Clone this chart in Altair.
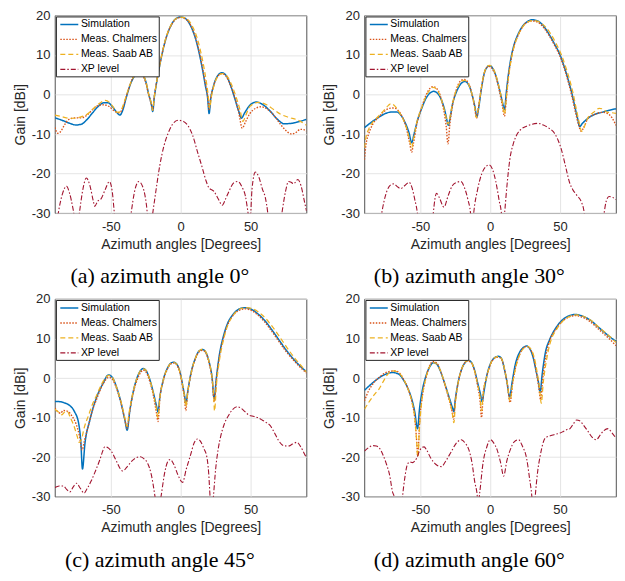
import altair as alt
import pandas as pd

SERIES = ["Simulation", "Meas. Chalmers", "Meas. Saab AB", "XP level"]
COLORS = ["#0072BD", "#D95319", "#EDB120", "#A2142F"]
DASHES = [[1, 0], [1.5, 1.5], [5, 3], [5, 2, 1.5, 2]]
WIDTHS = [1.5, 1.1, 1.3, 1.2]
X_TICKS = [-50, 0, 50]
Y_TICKS = [-30, -20, -10, 0, 10, 20]
CAPTIONS = ["(a) azimuth angle 0°", "(b) azimuth angle 30°",
            "(c) azimuth angle 45°", "(d) azimuth angle 60°"]

# ---------------- (a) azimuth angle 0 deg ----------------
A_SIM = [(-90,-5.9),(-85,-6.5),(-80,-7.2),(-75,-7.7),(-71,-7.5),(-67,-6.3),(-63,-4.6),(-59,-3.0),(-55,-2.1),(-52,-2.1),(-49,-3.0),(-46,-4.4),(-43.5,-5.2),(-41.5,-4.0),(-39,-0.8),(-36,2.6),(-33,4.7),(-30,5.5),(-27,4.9),(-25,3.3),(-23,0.2),(-21,-2.5),(-20,-4.3),(-19,-1.0),(-17.5,2.5),(-15.5,6.5),(-13.5,10.0),(-11.5,13.0),(-9,15.8),(-6,18.1),(-3,19.3),(0,19.6),(3,19.3),(6,18.1),(9,15.8),(11.5,13.0),(13.5,10.0),(15.5,6.5),(17.5,2.5),(19.3,-1.0),(20.3,-4.8),(21.5,-1.0),(23.5,2.2),(26.5,4.8),(29.5,5.5),(32.5,4.8),(35.5,2.5),(38.5,-0.8),(41.5,-4.2),(43.5,-6.0),(45.5,-4.8),(49.5,-2.7),(54,-1.9),(59,-2.6),(64,-4.2),(69,-6.2),(74,-7.4),(79,-7.3),(85,-6.8),(90,-6.3)]
A_CHA = [(-90,-8.3),(-88,-9.8),(-86,-9.4),(-83,-7.6),(-80,-6.3),(-76,-5.9),(-71,-5.9),(-67,-5.2),(-63,-3.8),(-59,-2.8),(-55,-2.6),(-51,-3.1),(-47,-4.3),(-44,-4.6),(-41.5,-3.5),(-39,-0.6),(-36,2.8),(-33,4.9),(-30,5.4),(-27,4.7),(-25,3.0),(-23,0.0),(-21,-2.5),(-20,-4.0),(-19,-0.8),(-17.5,2.7),(-15.5,6.6),(-13.5,10.0),(-11.5,13.0),(-9,15.8),(-6,18.0),(-3,19.2),(0,19.5),(3,19.2),(6,18.2),(9,16.0),(11.5,13.3),(13.5,10.4),(15.5,7.0),(17.5,3.0),(19.3,-0.5),(20.3,-3.8),(21.5,-0.8),(23.5,2.2),(26.5,4.6),(29.5,5.3),(32.5,4.6),(35.5,2.4),(38.5,-0.5),(41.5,-4.5),(44,-8.5),(46.5,-6.8),(49.5,-4.8),(53.5,-3.5),(57.5,-3.1),(61.5,-3.6),(66.5,-5.2),(71.5,-7.6),(76.5,-9.5),(79.5,-10.0),(82.5,-9.6),(85.5,-8.8),(88,-8.9),(90,-9.3)]
A_SAAB = [(-90,-5.2),(-85,-5.6),(-80,-6.0),(-76,-6.0),(-72,-5.7),(-67,-5.0),(-62,-3.4),(-58,-2.2),(-54,-1.5),(-51,-2.0),(-48,-3.3),(-45.5,-4.5),(-43.5,-4.4),(-41,-2.5),(-38,0.8),(-35,3.6),(-32,5.2),(-30,5.6),(-27,5.0),(-25,3.4),(-23,0.3),(-21,-2.3),(-20,-4.0),(-19,-0.9),(-17.5,2.6),(-15.5,6.6),(-13.5,10.1),(-11.5,13.2),(-9,16.0),(-6,18.2),(-3,19.3),(0,19.6),(3,19.4),(6,18.6),(9,16.8),(12,14.0),(14,11.3),(16,8.0),(18,4.0),(19.6,0.0),(20.7,-3.5),(22,-0.5),(24,2.5),(27,4.8),(30,5.3),(33,4.7),(36.5,2.4),(39.5,-0.5),(42.5,-4.0),(44.5,-6.8),(46.5,-5.3),(49.5,-3.0),(55.5,-2.0),(61.5,-2.6),(66.5,-3.8),(71.5,-5.0),(77.5,-5.8),(84,-6.5),(90,-7.8)]
A_XP = [(-90,-36),(-87.6,-30),(-84.5,-25),(-81.7,-23.2),(-79.5,-25),(-77,-29),(-75.5,-32),(-74,-34),(-72.5,-30),(-70,-24),(-67.5,-21.1),(-65,-23),(-62.5,-27),(-61.5,-28.3),(-59.5,-27),(-57,-26.4),(-54,-24),(-51,-22),(-49,-24.5),(-47.5,-30),(-46,-36),(-38,-36),(-35.5,-30),(-33,-24.5),(-30,-22),(-27,-23.5),(-24.5,-28),(-23,-33),(-21.5,-34),(-20,-30),(-18,-25),(-15,-18),(-12,-13),(-9,-9.8),(-6,-7.6),(-2,-6.5),(2,-6.8),(5,-7.8),(8.4,-10.2),(12,-14.5),(15.5,-18.6),(18,-21.7),(20.2,-23.6),(23.8,-24.5),(27,-26.5),(29.7,-28),(32,-26.5),(34.5,-24.5),(38,-22.3),(41,-22),(44,-23.5),(46.3,-25.7),(48,-29.5),(49.5,-33),(51,-24),(53.4,-19.6),(56,-21),(58.5,-24),(60.5,-26),(62.3,-30),(64,-36),(70,-36),(72.4,-30),(75,-24.5),(77.1,-22),(79,-22.2),(80.7,-22.6),(83.8,-21.5),(86,-23),(88.5,-27),(90,-29.5)]

# ---------------- (b) azimuth angle 30 deg ----------------
B_SIM = [(-90,-8.4),(-85,-7.0),(-80,-5.8),(-75,-4.8),(-70,-4.4),(-67,-4.4),(-64,-5.2),(-61,-7.0),(-58,-9.8),(-56.2,-12.2),(-54.5,-10.0),(-52,-6.5),(-49,-3.5),(-46,-1.0),(-43,0.4),(-40.5,0.8),(-38,0.4),(-35,-1.3),(-32.5,-4.0),(-30.5,-7.2),(-30,-7.8),(-29,-6.5),(-27,-2.5),(-24,0.8),(-21,2.7),(-18.2,3.3),(-15.5,2.5),(-13,0.0),(-11,-3.0),(-9.5,-5.6),(-8.3,-3.5),(-6.5,1.0),(-4.5,5.0),(-2.5,6.8),(-0.5,7.3),(1.5,6.8),(4,4.8),(6.5,1.5),(8.5,-1.5),(10.2,-3.8),(11.5,0.5),(13,5.0),(15,9.5),(17,12.5),(20,15.3),(23,17.2),(26,18.3),(30,18.9),(34,18.6),(38,17.4),(42,15.3),(46,12.8),(50,10.0),(53,7.0),(56,3.5),(58.5,0.2),(60.5,-3.0),(62.5,-6.0),(64,-8.1),(66,-7.3),(70,-6.0),(75,-5.0),(80,-4.5),(85,-4.0),(90,-3.6)]
B_CHA = [(-90,-16.5),(-89,-13),(-87,-10),(-84,-7.5),(-80,-5.8),(-76,-4.3),(-72,-3.5),(-69,-3.4),(-66,-4.0),(-63,-5.6),(-60,-8.5),(-57.5,-12.5),(-56.2,-14.6),(-55,-12.5),(-52.5,-7.5),(-49,-3.2),(-46,-0.2),(-43,1.6),(-41,2.0),(-38.5,1.6),(-36,0.0),(-33.5,-3.5),(-31.5,-8),(-30.2,-12.5),(-29,-8.0),(-27,-2.8),(-24,1.5),(-21,3.5),(-18.5,3.8),(-15.5,2.8),(-13,0.0),(-11,-3.5),(-9.8,-6.0),(-8.5,-3.5),(-6.5,1.2),(-4.5,5.0),(-2.5,6.8),(-0.5,7.1),(1.5,6.5),(4,4.5),(6.5,1.0),(8.5,-2.5),(10.2,-5.5),(11.5,-1.0),(13,4.5),(15,9.0),(17,12.2),(20,15.0),(23,17.0),(26,18.2),(30,18.6),(34,18.3),(38,17.0),(42,15.0),(46,12.5),(50,9.6),(53,6.6),(56,3.0),(58.5,-0.5),(61,-4.5),(63.5,-8.0),(65,-9.3),(67,-8.3),(70,-6.0),(75,-5.0),(80,-4.5),(84,-4.8),(87,-5.8),(90,-7.8)]
B_SAAB = [(-90,-13.5),(-89,-11),(-87,-8.8),(-84,-7.0),(-80,-5.5),(-76,-4.0),(-73,-2.8),(-71,-2.3),(-68,-3.0),(-65,-4.5),(-62,-6.5),(-59,-9.5),(-57,-12.5),(-56.2,-13.5),(-55,-11.5),(-52.5,-7),(-49,-3.3),(-46,-0.5),(-43,1.2),(-41,1.8),(-38.5,1.4),(-36,-0.2),(-33.5,-3.0),(-31,-6.5),(-30,-7.5),(-29,-6.0),(-27,-2.3),(-24,1.3),(-21,3.2),(-18.5,3.6),(-15.5,2.6),(-13,0.0),(-11,-3.3),(-10,-5.8),(-8.5,-3.5),(-6.5,1.3),(-4.5,5.2),(-2.5,7.0),(-0.5,7.4),(1.5,6.9),(4,5.0),(6.5,1.6),(8.5,-1.5),(10.2,-5.0),(11.5,-1.0),(13,4.0),(15,8.8),(17,12.0),(20,15.0),(23,17.0),(26,18.2),(31,18.7),(35,18.4),(39,17.3),(43,15.5),(47,13.0),(51,10.0),(54,7.0),(57,3.5),(59.5,0.0),(61.5,-3.5),(63.5,-6.8),(65.5,-9.3),(67.5,-8.0),(70,-5.8),(74,-4.5),(78,-3.5),(80,-3.6),(84,-4.5),(87,-4.6),(90,-4.8)]
B_XP = [(-90,-36),(-80,-36),(-77.6,-30),(-74,-24.5),(-71,-22.8),(-69,-22.6),(-66.5,-23.3),(-64,-23.8),(-61,-23),(-58,-22.2),(-56,-23.5),(-54,-26.5),(-52.1,-30),(-50.5,-36),(-42,-36),(-40.7,-30),(-38.4,-25),(-36.5,-26),(-33.1,-28.5),(-30,-25.5),(-27,-23),(-24,-22.2),(-21,-22),(-18.5,-23.5),(-16,-26.5),(-14.1,-30),(-13,-35),(-11.8,-30),(-9,-24),(-6,-20),(-3,-18.2),(-0.8,-17.8),(1.5,-18.8),(4,-22),(6.5,-27),(8,-30),(9,-35),(10.3,-30),(12,-23),(14,-16.5),(16.5,-12.5),(19,-10.2),(22,-8.8),(26,-8),(30,-7.5),(34.5,-7.3),(38,-7.7),(42,-8.5),(46,-9.8),(48.5,-11.5),(51,-14),(54,-18.3),(57,-22.5),(59,-24),(62,-25.5),(65,-27),(67.3,-30),(69,-36),(79.5,-36),(81.5,-30),(83,-27),(85,-25.8),(87.5,-26),(90,-26.6)]

# ---------------- (c) azimuth angle 45 deg ----------------
C_SIM = [(-90,-5.9),(-86,-6.0),(-83,-6.3),(-80,-6.8),(-76,-8.5),(-73,-11.5),(-71.5,-16),(-70.3,-23),(-68.5,-16.5),(-65,-10.6),(-60,-4.7),(-55.5,-1.3),(-51.8,0.8),(-49,0.2),(-46,-2.2),(-43,-5.8),(-40,-10.5),(-38.3,-13.2),(-36.5,-8.5),(-34,-3.5),(-31,0.3),(-28.5,2.0),(-27,2.4),(-25,2.0),(-22,-0.5),(-19.5,-3.8),(-17.5,-6.8),(-16.2,-8.6),(-15,-5),(-12.5,-0.5),(-9.5,2.5),(-7,3.8),(-5.2,4.0),(-3,3.6),(-0.5,1.5),(1.5,-2),(2.8,-4.5),(3.7,-6.5),(5,-3.5),(7.5,1.5),(10.5,5.0),(13,6.8),(15.6,7.2),(18,6.5),(20.5,3.8),(22.5,0.0),(23.9,-5.2),(25.5,0.0),(27.5,5.5),(30.5,10.5),(33.5,13.8),(37,15.9),(41,17.3),(45.5,17.8),(50,17.5),(55,16.3),(60,14.6),(65,12.3),(70,9.8),(75,7.3),(80,5.1),(85,3.2),(90,1.6)]
C_CHA = [(-90,-7.6),(-88,-8.5),(-86,-8.9),(-84,-8.2),(-81,-8.4),(-78,-9.5),(-75,-11.5),(-72.5,-14.5),(-70.5,-18.2),(-69,-16),(-66,-12),(-63,-8),(-60,-5.2),(-57,-2.5),(-54,-0.6),(-51.5,0.2),(-49,-0.3),(-46,-2.5),(-43,-6),(-40,-10.5),(-38.3,-12.8),(-36.5,-8.5),(-34,-3.8),(-31,-0.3),(-28.5,1.5),(-27,2.0),(-25,1.6),(-22,-1.0),(-19.5,-4.5),(-17.5,-8.5),(-16.2,-11.0),(-15,-5.5),(-12.5,-0.8),(-9.5,2.3),(-7,3.6),(-5.2,3.8),(-3,3.4),(-0.5,1.2),(1.5,-2.5),(2.8,-5.5),(3.6,-8.2),(5,-3.8),(7.5,1.2),(10.5,4.8),(13,6.6),(15.6,7.0),(18,6.3),(20.5,3.5),(22.5,-0.5),(24,-6.0),(25.5,-0.5),(27.5,5.0),(30.5,10.0),(33.5,13.4),(37,15.6),(41,17.0),(46,17.5),(50,17.2),(55,16.0),(60,14.2),(65,11.9),(70,9.4),(75,6.9),(80,4.8),(85,2.9),(90,1.3)]
C_SAAB = [(-90,-7.9),(-87.5,-8.6),(-85,-9.3),(-83,-8.6),(-81,-8.5),(-79,-10),(-76.5,-12),(-74,-14.8),(-72.5,-16.3),(-71,-15.5),(-69,-12.5),(-66,-9.5),(-63,-6.5),(-60,-4.2),(-57,-1.8),(-54,0),(-51.5,0.7),(-49,0.2),(-46,-2.2),(-43,-5.6),(-40,-10),(-38.5,-12.2),(-36.8,-8.5),(-34,-3.4),(-31,0.3),(-28.5,2.0),(-26.5,2.3),(-24.5,1.8),(-22,-0.5),(-19.5,-4.0),(-17.5,-7.5),(-16.3,-10.0),(-15,-5.2),(-12.5,-0.5),(-9.5,2.5),(-7,3.8),(-5,4.0),(-3,3.6),(-0.5,1.4),(1.5,-2.0),(2.8,-4.8),(3.7,-7.2),(5,-3.5),(7.5,1.4),(10.5,5.0),(13,6.8),(15.6,7.3),(18,6.6),(20.5,3.8),(22.5,0.0),(23.5,-4.0),(24.2,-8.3),(25.5,-2.0),(27.5,4.0),(30.5,9.5),(33.5,13.2),(37,15.6),(41,17.2),(46,17.8),(51,17.6),(56,16.6),(61,15.0),(66,12.8),(71,10.3),(76,7.7),(81,5.3),(86,3.2),(90,1.5)]
C_XP = [(-90,-27.7),(-87,-27.3),(-84,-27.3),(-81.5,-28.2),(-79.3,-28.8),(-77,-27.6),(-74.6,-26.6),(-72,-27.8),(-69.1,-29.1),(-67,-28),(-64,-26),(-61,-23.5),(-58,-20.8),(-55.5,-18.2),(-54.4,-17.4),(-52,-17.6),(-49.7,-18.5),(-46,-21),(-43.5,-22.8),(-41.4,-23.5),(-38.5,-22.5),(-35,-21),(-31.5,-20.1),(-28.8,-19.9),(-26,-20.5),(-23.6,-21.6),(-21,-24.5),(-18.4,-30),(-16.5,-35),(-14.1,-30),(-11.5,-24),(-9.5,-21.3),(-7.5,-20.6),(-5,-21.8),(-2,-24.5),(1.3,-26.4),(4,-23),(7,-19.5),(9.5,-16.5),(12,-15.4),(14.5,-16.2),(16.5,-17.8),(18.6,-19.8),(20,-24),(21,-30),(22.2,-35),(23.4,-30),(25,-23),(26.8,-18),(28.6,-14.75),(31,-11.8),(34,-9.6),(37,-8),(40.5,-7.25),(43,-7.6),(46,-8.5),(48.5,-9.3),(51.1,-9.6),(55,-10),(58.2,-10.6),(61,-11.2),(64.2,-12.1),(67,-13.8),(70,-15.8),(73.7,-17.1),(77,-17.2),(80,-16.7),(83.2,-16.25),(86,-17.5),(88,-18.8),(90,-20.2)]

# ---------------- (d) azimuth angle 60 deg ----------------
D_SIM = [(-90,-3.1),(-86,-1.8),(-82,-0.6),(-78,0.4),(-74,1.1),(-70,1.4),(-66,1.1),(-62,-0.5),(-59,-2.5),(-56,-5.5),(-54,-8.5),(-52,-12.8),(-50.5,-7.5),(-48.5,-3.0),(-46,0.5),(-43.5,2.7),(-40.6,3.9),(-38,3.4),(-35,1.2),(-32,-2),(-29,-5.3),(-27,-7.5),(-26,-8.5),(-25,-5.5),(-23,-1.2),(-20.5,2.2),(-18,3.9),(-15.7,4.5),(-13.5,4.0),(-11,1.8),(-9,-1.2),(-7,-4),(-5.8,-6.0),(-4.5,-3.5),(-2.5,0.5),(0,3.5),(3,5.1),(5.7,5.5),(8,5.0),(10,2.5),(12,-1.0),(13.9,-4.8),(15.7,-1.0),(18,3.5),(21,6.5),(24,7.8),(26,8.1),(28,7.6),(30.5,5.5),(33,1.5),(34.5,-1.0),(35.7,-3.6),(37.2,1.0),(39.5,6.5),(42.5,9.7),(47,12.7),(52,14.8),(56,15.7),(61,16.1),(65,15.8),(71,14.8),(78,12.7),(85,10.6),(90,9.3)]
D_CHA = [(-90,-5.8),(-87,-3.2),(-84,-1.5),(-80,0),(-76,1.1),(-72,1.7),(-68,1.8),(-65,1.3),(-62,-0.3),(-59,-2.5),(-56,-6),(-54,-10),(-52.8,-15),(-51.8,-19.7),(-50.5,-11),(-48.5,-4.5),(-46,0),(-43.5,3.0),(-41,4.2),(-38,3.7),(-35,1.3),(-32,-2.2),(-29,-6),(-27.2,-8.5),(-26.2,-10.4),(-25,-6),(-23,-1.3),(-20.5,2.2),(-18,3.9),(-16,4.3),(-13.5,3.8),(-11,1.5),(-9,-2),(-7.2,-6),(-6.2,-10),(-5,-4),(-2.5,0.3),(0,3.3),(3,5.0),(5.5,5.3),(8,4.8),(10.2,2.2),(12.2,-1.5),(14.2,-6.2),(16,-1.5),(18.5,3.2),(21.5,6.3),(24,7.7),(26.2,8.0),(28.5,7.4),(31,5.3),(33.2,1.0),(34.8,-2.5),(36,-5.4),(37.6,0),(40,6),(42.5,9.4),(47,12.4),(52,14.5),(56,15.4),(61,15.8),(65,15.5),(71,14.4),(78,12.2),(85,10.0),(90,8.2)]
D_SAAB = [(-90,-7.9),(-87,-6.2),(-84.6,-5),(-82,-3.8),(-79.8,-2.9),(-77,-1.2),(-73.9,0.7),(-71.5,1.6),(-69.6,1.8),(-66,1.5),(-62,-0.3),(-59,-2.6),(-56,-6),(-54,-10),(-52.8,-15),(-51.8,-20),(-50.5,-12),(-48.5,-4.5),(-46,0),(-43.5,2.8),(-40.8,3.9),(-38,3.5),(-35,1.3),(-32,-2),(-29,-5.8),(-27.2,-8.8),(-26,-11.3),(-24.8,-6),(-23,-1.3),(-20.5,2.2),(-18,4.0),(-15.7,4.5),(-13.5,4.0),(-11,1.6),(-9,-1.6),(-7.2,-5),(-6.2,-8.3),(-5,-3.8),(-2.5,0.4),(0,3.4),(3,5.1),(5.7,5.5),(8,5.0),(10.2,2.4),(12.2,-1.3),(14.2,-5.8),(16,-1.5),(18.5,3.0),(21.5,6.2),(24.5,7.7),(26.6,8.0),(29,7.4),(31.5,5.2),(33.8,1.0),(35.4,-2.8),(36.5,-6.4),(38,-1.0),(40.5,5.0),(43,9.0),(47.5,12.3),(52.5,14.6),(57,15.6),(61.5,16.0),(66,15.7),(72,14.6),(78,12.8),(85,10.7),(90,9.0)]
D_XP = [(-90,-18.5),(-87,-17.6),(-84.1,-17.1),(-81.5,-17.2),(-79.3,-17.7),(-77,-19.2),(-74.6,-21.4),(-72,-24.5),(-69.8,-28.9),(-68.7,-30),(-67,-36),(-64,-36),(-62.7,-30),(-61,-25),(-59.2,-21.8),(-57.5,-21.2),(-55.6,-21.4),(-54,-21),(-52.5,-20.2),(-50.5,-18.4),(-49,-17.6),(-47.3,-17.4),(-45.5,-18.2),(-42.6,-20.2),(-39,-21.8),(-35,-22.4),(-31.5,-20.8),(-28.3,-18.9),(-24.5,-16.6),(-20.7,-15.6),(-17.8,-16.5),(-15.3,-18.1),(-13,-21.5),(-11,-26.4),(-9.5,-29),(-8.6,-32),(-7.5,-29),(-5.1,-21.4),(-2.5,-17.5),(0.1,-15.6),(2.5,-16.4),(4.9,-18.1),(7.5,-21.5),(9.6,-24.8),(12,-20.8),(14.4,-18.1),(17,-16.2),(20.3,-15.6),(23,-17.2),(26.2,-20.6),(28,-25),(29.8,-30),(31,-36),(32.2,-30),(34,-23.5),(35.7,-19.8),(37.5,-16.8),(39.3,-15.2),(43,-14.6),(47,-14.2),(50,-13.9),(52.3,-13.5),(55,-13),(57,-12.8),(59.5,-11.6),(61.8,-10.6),(64,-10.8),(66.5,-11.8),(70,-13.5),(73,-15),(76,-15.6),(78.5,-14.5),(81,-13.4),(84.3,-12.8),(87,-13.8),(90,-15.2)]

PANELS = [
    [A_SIM, A_CHA, A_SAAB, A_XP],
    [B_SIM, B_CHA, B_SAAB, B_XP],
    [C_SIM, C_CHA, C_SAAB, C_XP],
    [D_SIM, D_CHA, D_SAAB, D_XP],
]

PW, PH = 252, 198


def panel(curves, caption):
    rows = []
    for name, pts in zip(SERIES, curves):
        for i, (x, y) in enumerate(pts):
            rows.append({"series": name, "angle": x, "gain": y, "idx": i})
    df = pd.DataFrame(rows)
    legend = alt.Legend(
        title=None, orient="top-left", offset=1, fillColor="white",
        strokeColor="#262626", padding=1, labelFontSize=10.5,
        labelFont="Liberation Sans", labelColor="black",
        symbolType="M-0.6,0H2.4", symbolSize=144, symbolStrokeWidth=1.4,
        rowPadding=2, labelOffset=10, cornerRadius=0,
    )
    return alt.Chart(
        df,
        title=alt.TitleParams(
            caption, orient="bottom", anchor="middle", frame="bounds",
            font="Liberation Serif", fontSize=22, fontWeight="normal",
            color="black", offset=15,
        ),
    ).mark_line(clip=True, interpolate="monotone").encode(
        x=alt.X("angle:Q", scale=alt.Scale(domain=[-90, 90], nice=False, zero=False),
                axis=alt.Axis(values=X_TICKS, title="Azimuth angles [Degrees]",
                              labelExpr="'' + datum.value")),
        y=alt.Y("gain:Q", scale=alt.Scale(domain=[-30, 20], nice=False, zero=False),
                axis=alt.Axis(values=Y_TICKS, title="Gain [dBi]",
                              labelExpr="'' + datum.value")),
        color=alt.Color("series:N", scale=alt.Scale(domain=SERIES, range=COLORS), legend=legend),
        strokeDash=alt.StrokeDash("series:N", scale=alt.Scale(domain=SERIES, range=DASHES), legend=legend),
        strokeWidth=alt.StrokeWidth("series:N", scale=alt.Scale(domain=SERIES, range=WIDTHS), legend=None),
        order="idx:Q",
    ).properties(width=PW, height=PH)


charts = [panel(c, t) for c, t in zip(PANELS, CAPTIONS)]
res = dict(color="independent", strokeDash="independent", strokeWidth="independent")
row1 = alt.hconcat(charts[0], charts[1], spacing=14).resolve_scale(**res).resolve_legend(color="independent", strokeDash="independent")
row2 = alt.hconcat(charts[2], charts[3], spacing=14).resolve_scale(**res).resolve_legend(color="independent", strokeDash="independent")
chart = alt.vconcat(row1, row2, spacing=4).resolve_scale(**res).resolve_legend(
    color="independent", strokeDash="independent"
).configure_view(
    stroke="#262626", strokeWidth=0.8
).configure_axis(
    domain=False, grid=True, gridColor="#DDDDDD", gridWidth=0.8, ticks=False,
    labelFont="Liberation Sans", labelFontSize=13, labelColor="#262626",
    titleFont="Liberation Sans", titleFontSize=14, titleFontWeight="normal",
    titleColor="#262626",
).configure_axisX(
    labelPadding=7, titlePadding=4,
).configure_axisY(
    labelPadding=5, titlePadding=4,
).properties(
    background="white", padding={"left": 4, "top": 0, "right": 0, "bottom": 0}
)

chart.save("out.html", embed_options={"renderer": "svg", "actions": False})
